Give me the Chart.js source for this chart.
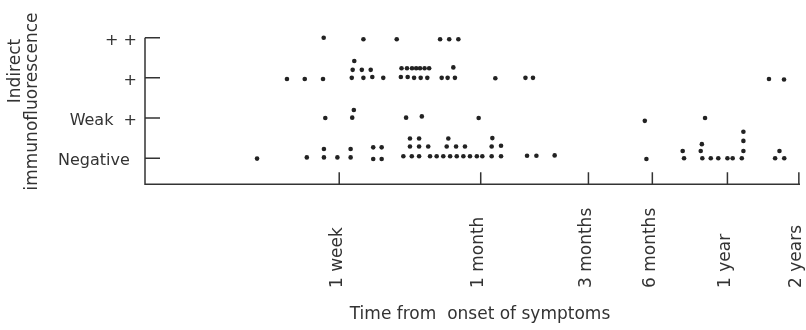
<!DOCTYPE html>
<html>
<head>
<meta charset="utf-8">
<script src="https://cdn.jsdelivr.net/npm/chart.js@4/dist/chart.umd.min.js"></script>
<style>
    html, body { margin: 0; padding: 0; background: #fff; }
</style>
</head>
<body>
<canvas id="chart" width="806" height="330"></canvas>
<script>
// y levels: 0 = Negative, 1 = Weak +, 2 = +, 3 = + +
var levelLabels = ['Negative', 'Weak  +', '+', '+ +'];
// x: position along the (log) time axis
var timeTicks = [0.851, 1.471, 1.943, 2.223, 2.552, 2.865];
var timeLabels = ['1 week', '1 month', '3 months', '6 months', '1 year', '2 years'];

var plus2X = [0.783, 0.957, 1.103, 1.293, 1.333, 1.373];
var plus2Y = [3.0, 2.96, 2.96, 2.96, 2.96, 2.96];

var plusX = [0.622, 0.700, 0.780, 0.906, 0.957, 0.996, 1.044, 1.121, 1.151, 1.179, 1.208, 1.237, 1.300, 1.326, 1.358, 1.535, 1.667, 1.700, 2.734, 2.800,
             0.910, 0.950, 0.989, 1.124, 1.148, 1.170, 1.188, 1.205, 1.225, 1.245, 1.351, 0.917];
var plusY = [1.97, 1.97, 1.97, 2.0, 2.0, 2.02, 2.0, 2.02, 2.02, 2.0, 2.0, 2.0, 2.0, 2.0, 2.0, 1.99, 2.0, 2.0, 1.97, 1.96,
             2.2, 2.2, 2.2, 2.24, 2.24, 2.24, 2.24, 2.24, 2.24, 2.24, 2.26, 2.42];

var weakX = [0.790, 0.908, 0.915, 1.144, 1.213, 1.462, 2.190, 2.454];
var weakY = [1.0, 1.01, 1.2, 1.01, 1.04, 1.0, 0.93, 1.0];

var negX = [0.491, 0.709, 0.784, 0.843, 0.901, 1.000, 1.037, 1.132, 1.169, 1.201, 1.249, 1.278, 1.307, 1.337, 1.366, 1.395, 1.424, 1.454, 1.478, 1.519, 1.560,
            1.674, 1.715, 1.795, 2.197, 2.362, 2.442, 2.479, 2.512, 2.552, 2.575, 2.615, 2.761, 2.801,
            0.784, 0.901, 1.000, 1.037, 1.161, 1.201, 1.241, 1.322, 1.363, 1.402, 1.519, 1.560, 2.356, 2.435, 2.622, 2.780,
            1.161, 1.201, 1.329, 1.522, 2.440, 2.622, 2.622];
var negY = [-0.01, 0.02, 0.02, 0.02, 0.02, -0.02, -0.02, 0.05, 0.05, 0.05, 0.05, 0.05, 0.05, 0.05, 0.05, 0.05, 0.05, 0.05, 0.05, 0.05, 0.05,
            0.06, 0.06, 0.07, -0.02, 0.0, 0.0, 0.0, 0.0, 0.0, 0.0, 0.0, 0.0, 0.0,
            0.23, 0.23, 0.27, 0.27, 0.29, 0.29, 0.29, 0.29, 0.29, 0.29, 0.29, 0.31, 0.18, 0.18, 0.18, 0.18,
            0.49, 0.49, 0.49, 0.5, 0.35, 0.43, 0.66];

function pts(xs, ys) {
    return xs.map(function(x, i) { return { x: x, y: ys[i] }; });
}

var ink = '#333';
var font = '"DejaVu Sans", sans-serif';

// axes, inward ticks and labels drawn from the scales
var axesPlugin = {
    id: 'axes',
    afterDraw: function(chart) {
        var ctx = chart.ctx, xs = chart.scales.x, ys = chart.scales.y, a = chart.chartArea;
        ctx.save();
        ctx.strokeStyle = ink;
        ctx.lineWidth = 1.5;
        ctx.beginPath();
        ctx.moveTo(a.left, ys.getPixelForValue(3));
        ctx.lineTo(a.left, a.bottom);
        ctx.lineTo(a.right, a.bottom);
        levelLabels.forEach(function(l, i) {
            var y = ys.getPixelForValue(i);
            ctx.moveTo(a.left, y);
            ctx.lineTo(a.left + 15, y);
        });
        timeTicks.forEach(function(v) {
            var x = xs.getPixelForValue(v);
            ctx.moveTo(x, a.bottom);
            ctx.lineTo(x, a.bottom - 12);
        });
        ctx.stroke();

        ctx.fillStyle = ink;
        ctx.textBaseline = 'middle';
        ctx.font = '16px ' + font;
        levelLabels.forEach(function(l, i) {
            var y = ys.getPixelForValue(i) + 3;
            if (i === 0) { ctx.textAlign = 'left'; ctx.fillText(l, 58, y); }
            else { ctx.textAlign = 'right'; ctx.fillText(l, 137, y); }
        });

        ctx.font = '17px ' + font;
        timeTicks.forEach(function(v, i) {
            ctx.save();
            ctx.translate(xs.getPixelForValue(v) - 2, 288);
            ctx.rotate(-Math.PI / 2);
            ctx.textAlign = 'left';
            ctx.fillText(timeLabels[i], 0, 0);
            ctx.restore();
        });

        ctx.textAlign = 'center';
        ctx.fillText('Time from  onset of symptoms', 480, 315);

        ctx.save();
        ctx.translate(15.5, 71);
        ctx.rotate(-Math.PI / 2);
        ctx.fillText('Indirect', 0, 0);
        ctx.restore();
        ctx.save();
        ctx.translate(32.5, 101.5);
        ctx.rotate(-Math.PI / 2);
        ctx.fillText('immunofluorescence', 0, 0);
        ctx.restore();
        ctx.restore();
    }
};

new Chart(document.getElementById('chart'), {
    type: 'scatter',
    data: {
        datasets: [
            { data: pts(negX, negY) },
            { data: pts(weakX, weakY) },
            { data: pts(plusX, plusY) },
            { data: pts(plus2X, plus2Y) }
        ].map(function(d) {
            d.pointRadius = 2.3;
            d.pointBackgroundColor = '#222';
            d.pointBorderWidth = 0;
            d.clip = false;
            return d;
        })
    },
    options: {
        responsive: false,
        animation: false,
        devicePixelRatio: 1,
        layout: { padding: { left: 145, right: 6, top: 37.7, bottom: 145.7 } },
        scales: {
            x: { type: 'linear', display: false, min: 0, max: 2.87 },
            y: { type: 'linear', display: false, min: -0.65, max: 3 }
        },
        plugins: { legend: { display: false }, tooltip: { enabled: false } }
    },
    plugins: [axesPlugin]
});
</script>
</body>
</html>
